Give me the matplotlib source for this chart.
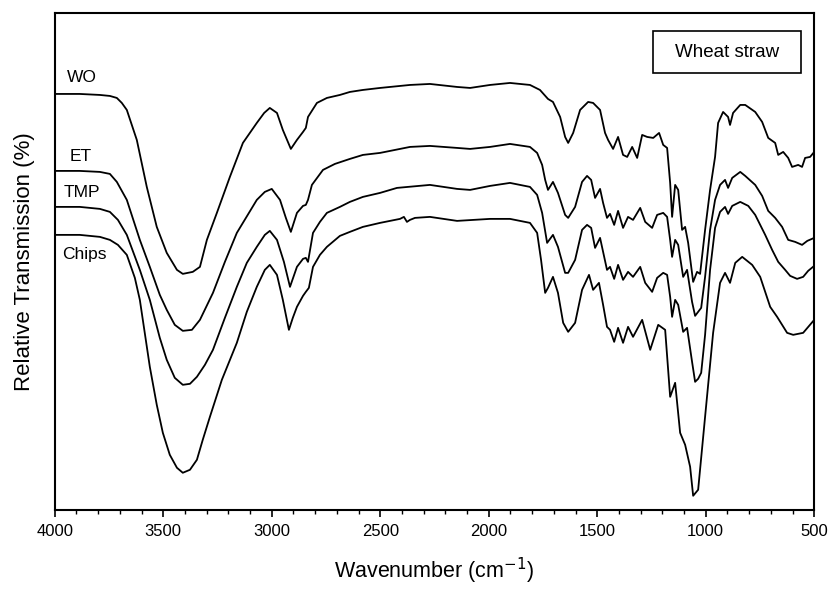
'''FTIR spectra of wheat straw samples (WO, ET, TMP, Chips)'''

import matplotlib
matplotlib.use('Agg')
import matplotlib.pyplot as plt
from matplotlib.ticker import MultipleLocator
from matplotlib.patches import Rectangle

plt.rcParams['font.family'] = ['Liberation Sans', 'DejaVu Sans']

# spectra: wavenumber (cm-1) and relative transmission (arb. units)
wo_wn = [4000, 3885, 3792, 3746, 3714, 3691, 3668, 3622, 3576, 3530, 3484, 3437, 3410, 3364,
         3331, 3299, 3253, 3193, 3133, 3069, 3035, 3009, 2976, 2949, 2912, 2884, 2856, 2843, 2833,
         2792, 2746, 2686, 2640, 2580, 2501, 2363, 2271, 2146, 2086, 1994, 1902, 1810, 1764,
         1727, 1704, 1671, 1648, 1634, 1611, 1579, 1542, 1519, 1487, 1464, 1450, 1427, 1404,
         1381, 1362, 1339, 1316, 1293, 1270, 1242, 1215, 1196, 1178, 1164, 1155, 1141, 1127,
         1109, 1095, 1081, 1058, 1040, 1026, 1003, 980, 957, 943, 920, 897, 888, 874, 841,
         818, 772, 740, 712, 680, 666, 643, 620, 602, 574, 556, 542, 519, 500]
wo_t = [416, 416, 415, 414, 412, 407, 400, 370, 323, 283, 257, 240, 236, 238,
        243, 270, 297, 333, 367, 387, 397, 402, 397, 380, 361, 370, 378, 382, 393,
        407, 412, 415, 418, 420, 422, 425, 426, 423, 422, 425, 427, 425, 420,
        411, 408, 393, 373, 367, 377, 400, 408, 407, 400, 377, 370, 361, 373,
        355, 353, 363, 352, 375, 373, 372, 377, 365, 362, 327, 293, 325, 320,
        280, 283, 267, 228, 238, 236, 280, 320, 353, 387, 398, 393, 385, 397, 405,
        405, 398, 388, 372, 367, 355, 358, 352, 343, 345, 343, 352, 353, 358]

et_wn = [3991, 3885, 3792, 3746, 3714, 3668, 3608, 3562, 3516, 3484, 3447, 3410, 3368, 3331,
         3271, 3216, 3161, 3069, 3032, 3000, 2962, 2935, 2912, 2884, 2856, 2843, 2833, 2815,
         2764, 2709, 2640, 2580, 2501, 2363, 2271, 2146, 2086, 1994, 1902, 1810, 1777, 1754,
         1740, 1727, 1704, 1681, 1648, 1634, 1602, 1570, 1547, 1528, 1510, 1487, 1473, 1455,
         1441, 1422, 1404, 1381, 1358, 1335, 1302, 1279, 1247, 1224, 1196, 1178, 1164, 1155,
         1141, 1127, 1104, 1086, 1063, 1049, 1035, 1021, 1003, 980, 957, 934, 911, 897, 878,
         841, 818, 772, 740, 712, 680, 648, 620, 588, 556, 532, 500]
et_t = [339, 339, 338, 336, 328, 310, 270, 243, 215, 200, 185, 179, 180, 190,
        217, 248, 277, 310, 318, 321, 310, 292, 278, 297, 304, 305, 310, 325,
        340, 346, 351, 355, 357, 363, 364, 362, 361, 363, 366, 363, 357, 345,
        330, 320, 328, 317, 295, 292, 303, 328, 334, 330, 312, 321, 307, 292,
        296, 285, 299, 282, 293, 290, 302, 288, 282, 295, 297, 293, 270, 253,
        270, 265, 233, 240, 208, 194, 198, 202, 233, 280, 310, 325, 330, 322, 332,
        338, 334, 325, 314, 299, 292, 283, 270, 268, 265, 269, 272]

tmp_wn = [3991, 3885, 3792, 3746, 3709, 3668, 3608, 3562, 3516, 3484, 3447, 3410, 3377, 3345,
          3308, 3271, 3216, 3161, 3115, 3069, 3032, 3009, 2976, 2944, 2916, 2884, 2856, 2843,
          2833, 2810, 2778, 2746, 2686, 2640, 2580, 2501, 2423, 2271, 2146, 2086, 1994, 1902,
          1810, 1777, 1754, 1731, 1704, 1681, 1648, 1634, 1602, 1570, 1547, 1528, 1510, 1487,
          1468, 1455, 1441, 1422, 1404, 1381, 1358, 1335, 1302, 1279, 1247, 1224, 1196, 1178,
          1164, 1155, 1141, 1127, 1104, 1086, 1063, 1049, 1035, 1021, 1003, 980, 957, 934, 911,
          897, 878, 841, 804, 772, 726, 694, 666, 634, 611, 579, 551, 528, 500]
tmp_t = [303, 303, 301, 298, 290, 275, 240, 210, 172, 150, 132, 125, 126, 133,
         145, 160, 192, 223, 247, 263, 275, 279, 270, 248, 223, 243, 251, 252,
         248, 277, 288, 297, 303, 308, 313, 317, 322, 325, 321, 320, 324, 327,
         323, 315, 297, 267, 275, 263, 237, 237, 250, 280, 285, 282, 262, 272,
         253, 240, 243, 231, 245, 230, 238, 233, 243, 227, 218, 232, 237, 235,
         213, 193, 210, 205, 178, 182, 148, 128, 131, 137, 175, 240, 282, 298, 303,
         296, 304, 308, 304, 295, 275, 260, 248, 240, 234, 231, 233, 239, 244]

chips_wn = [3991, 3885, 3792, 3746, 3709, 3668, 3631, 3608, 3562, 3530, 3502, 3470, 3437, 3410,
            3377, 3345, 3318, 3285, 3230, 3161, 3115, 3069, 3032, 3009, 2976, 2949, 2921, 2903,
            2884, 2856, 2843, 2829, 2810, 2778, 2746, 2686, 2640, 2580, 2501, 2409, 2391, 2377,
            2363, 2340, 2271, 2146, 1994, 1902, 1810, 1777, 1759, 1740, 1727, 1704, 1681, 1657,
            1634, 1602, 1570, 1538, 1519, 1492, 1473, 1455, 1441, 1422, 1404, 1381, 1358, 1335,
            1293, 1256, 1219, 1187, 1164, 1141, 1118, 1095, 1072, 1058, 1035, 1003, 966, 934,
            911, 888, 864, 832, 786, 749, 703, 671, 625, 597, 551, 500]
chips_t = [275, 275, 273, 270, 265, 255, 232, 210, 143, 105, 77, 55, 42, 37,
           40, 50, 70, 93, 130, 167, 198, 223, 240, 245, 235, 210, 180, 192,
           203, 214, 218, 222, 243, 255, 263, 274, 278, 283, 287, 291, 293, 288,
           290, 292, 293, 289, 291, 291, 287, 277, 250, 217, 222, 233, 217, 187,
           178, 187, 220, 235, 220, 227, 205, 183, 180, 168, 182, 167, 183, 173,
           190, 160, 185, 180, 113, 127, 77, 65, 43, 14, 20, 93, 177, 227,
           237, 227, 247, 253, 245, 233, 203, 193, 177, 175, 177, 190]

labels = ['WO', 'ET', 'TMP', 'Chips']
label_pos = [(3945, 432), (3930, 353), (3960, 317), (3965, 255)]

fig = plt.figure(figsize=(8.3, 5.9), dpi=100)
ax = fig.add_axes([0.066, 0.136, 0.915, 0.842])

for wn, t in [(wo_wn, wo_t), (et_wn, et_t), (tmp_wn, tmp_t), (chips_wn, chips_t)]:
    ax.plot(wn, t, color='black', lw=1.3, solid_joinstyle='round')

for name, (x, y) in zip(labels, label_pos):
    ax.text(x, y, name, fontsize=12.5, ha='left', va='center')

ax.set_xlim(4000, 500)
ax.set_ylim(0, 497)
ax.xaxis.set_major_locator(MultipleLocator(500))
ax.xaxis.set_minor_locator(MultipleLocator(100))
ax.tick_params(axis='x', which='major', direction='out', length=5, width=1.2,
               labelsize=12, pad=5)
ax.tick_params(axis='x', which='minor', direction='out', length=3, width=1.0)
ax.set_yticks([])
for s in ax.spines.values():
    s.set_linewidth(1.5)

ax.set_xlabel('Wavenumber (cm$^{-1}$)', fontsize=15.5, labelpad=12)
ax.set_ylabel('Relative Transmission (%)', fontsize=16, labelpad=14)

# sample box in the upper right corner
ax.add_patch(Rectangle((0.788, 0.879), 0.194, 0.085, transform=ax.transAxes,
                       fill=False, lw=1.2, color='black'))
ax.text(0.885, 0.921, 'Wheat straw', transform=ax.transAxes, fontsize=13.5,
        ha='center', va='center')

fig.savefig('out.png', dpi=100)
